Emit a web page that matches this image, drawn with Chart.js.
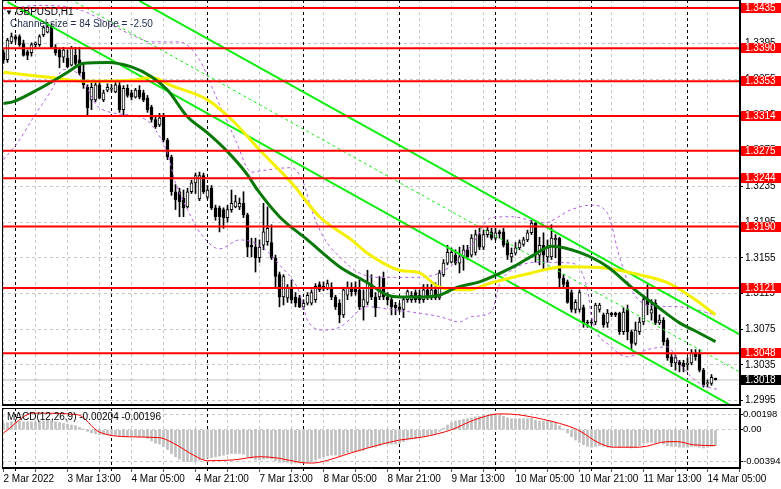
<!DOCTYPE html>
<html>
<head>
<meta charset="utf-8">
<script src="https://cdn.jsdelivr.net/npm/chart.js@4.4.1/dist/chart.umd.min.js"></script>
<style>
body { margin: 0; background: #fff; }
#wrap { position: relative; width: 781px; height: 489px; overflow: hidden; font-family: "Liberation Sans", Arial, sans-serif; font-size: 10px; }
canvas { position: absolute; left: 0; }
.txt { position: absolute; white-space: nowrap; line-height: 10px; }
</style>
</head>
<body>
<div id="wrap">
  <canvas id="priceChart" width="781" height="406" style="top:0"></canvas>
  <canvas id="macdChart" width="781" height="83" style="top:406px"></canvas>
  <div class="txt" style="left:5px;top:7px;color:#000"><span style="font-size:8px">▼</span> GBPUSD,H1</div>
  <div class="txt" style="left:10px;top:19px;color:#1f2a4a">Channel size = 84 Slope = -2.50</div>
  <div class="txt" style="left:7px;top:412px;color:#000">MACD(12,26,9) -0.00204 -0.00196</div>
</div>
<script>
// H1 candles: [open, high, low, close]
const candles = [
  [1.3385,1.3388,1.3373,1.3377],[1.3377,1.3401,1.3374,1.3399],[1.3397,1.3407,1.3395,1.3403],[1.3403,1.3405,1.3397,1.3400],
  [1.3403,1.3405,1.3392,1.3394],[1.3395,1.3399,1.3381,1.3382],[1.3386,1.3388,1.3377,1.3382],[1.3385,1.3396,1.3381,1.3394],
  [1.3394,1.3397,1.3391,1.3396],[1.3394,1.3405,1.3392,1.3403],[1.3405,1.3415,1.3403,1.3413],[1.3408,1.3419,1.3407,1.3414],
  [1.3414,1.3417,1.3390,1.3391],[1.3391,1.3394,1.3382,1.3385],[1.3388,1.3390,1.3368,1.3380],[1.3380,1.3391,1.3374,1.3388],
  [1.3379,1.3388,1.3368,1.3369],[1.3371,1.3392,1.3370,1.3390],[1.3382,1.3391,1.3371,1.3373],[1.3377,1.3391,1.3360,1.3362],
  [1.3363,1.3373,1.3345,1.3349],[1.3346,1.3349,1.3315,1.3323],[1.3332,1.3351,1.3321,1.3346],[1.3332,1.3354,1.3330,1.3349],
  [1.3349,1.3354,1.3333,1.3334],[1.3332,1.3343,1.3330,1.3340],[1.3343,1.3350,1.3341,1.3346],[1.3344,1.3349,1.3341,1.3345],
  [1.3341,1.3352,1.3340,1.3349],[1.3348,1.3352,1.3318,1.3321],[1.3321,1.3348,1.3315,1.3345],[1.3345,1.3349,1.3335,1.3337],
  [1.3340,1.3343,1.3332,1.3335],[1.3335,1.3345,1.3334,1.3343],[1.3343,1.3348,1.3333,1.3335],[1.3340,1.3343,1.3330,1.3332],
  [1.3334,1.3337,1.3318,1.3321],[1.3324,1.3326,1.3307,1.3310],[1.3310,1.3313,1.3300,1.3302],[1.3304,1.3317,1.3302,1.3312],
  [1.3313,1.3317,1.3285,1.3287],[1.3287,1.3289,1.3265,1.3268],[1.3268,1.3270,1.3225,1.3229],[1.3229,1.3237,1.3209,1.3220],
  [1.3229,1.3233,1.3201,1.3218],[1.3222,1.3231,1.3201,1.3211],[1.3212,1.3233,1.3211,1.3229],[1.3229,1.3242,1.3227,1.3239],
  [1.3239,1.3250,1.3227,1.3247],[1.3221,1.3251,1.3219,1.3247],[1.3247,1.3250,1.3227,1.3229],[1.3223,1.3236,1.3221,1.3231],
  [1.3233,1.3236,1.3209,1.3211],[1.3211,1.3214,1.3197,1.3201],[1.3211,1.3213,1.3184,1.3201],[1.3209,1.3211,1.3188,1.3200],
  [1.3200,1.3214,1.3195,1.3209],[1.3209,1.3231,1.3206,1.3216],[1.3212,1.3225,1.3211,1.3218],[1.3212,1.3222,1.3209,1.3216],
  [1.3216,1.3229,1.3200,1.3203],[1.3203,1.3205,1.3156,1.3167],[1.3169,1.3177,1.3156,1.3167],[1.3167,1.3177,1.3139,1.3155],
  [1.3155,1.3175,1.3150,1.3167],[1.3169,1.3216,1.3164,1.3184],[1.3173,1.3212,1.3169,1.3188],[1.3172,1.3192,1.3153,1.3155],
  [1.3155,1.3158,1.3122,1.3134],[1.3136,1.3139,1.3100,1.3111],[1.3111,1.3136,1.3102,1.3134],[1.3110,1.3125,1.3105,1.3122],
  [1.3122,1.3130,1.3104,1.3108],[1.3111,1.3116,1.3100,1.3104],[1.3110,1.3113,1.3099,1.3100],[1.3100,1.3108,1.3097,1.3104],
  [1.3104,1.3116,1.3102,1.3113],[1.3104,1.3119,1.3102,1.3116],[1.3108,1.3126,1.3105,1.3123],[1.3125,1.3128,1.3117,1.3119],
  [1.3120,1.3128,1.3118,1.3123],[1.3121,1.3130,1.3119,1.3126],[1.3122,1.3127,1.3108,1.3111],[1.3111,1.3113,1.3097,1.3100],
  [1.3104,1.3108,1.3082,1.3091],[1.3091,1.3122,1.3088,1.3119],[1.3113,1.3128,1.3108,1.3121],[1.3121,1.3127,1.3112,1.3117],
  [1.3122,1.3128,1.3113,1.3117],[1.3119,1.3130,1.3097,1.3100],[1.3100,1.3119,1.3085,1.3108],[1.3105,1.3141,1.3102,1.3127],
  [1.3125,1.3136,1.3108,1.3111],[1.3111,1.3116,1.3089,1.3099],[1.3111,1.3134,1.3108,1.3122],[1.3132,1.3139,1.3108,1.3111],
  [1.3111,1.3116,1.3102,1.3108],[1.3108,1.3111,1.3091,1.3100],[1.3102,1.3105,1.3091,1.3099],[1.3100,1.3104,1.3094,1.3097],
  [1.3097,1.3111,1.3088,1.3108],[1.3108,1.3119,1.3105,1.3117],[1.3108,1.3117,1.3105,1.3113],[1.3116,1.3119,1.3105,1.3108],
  [1.3113,1.3119,1.3104,1.3108],[1.3108,1.3125,1.3105,1.3119],[1.3119,1.3125,1.3108,1.3111],[1.3111,1.3125,1.3108,1.3119],
  [1.3119,1.3127,1.3108,1.3110],[1.3110,1.3141,1.3108,1.3138],[1.3136,1.3153,1.3134,1.3149],[1.3149,1.3169,1.3147,1.3161],
  [1.3150,1.3166,1.3149,1.3161],[1.3158,1.3164,1.3147,1.3149],[1.3149,1.3167,1.3138,1.3156],[1.3155,1.3169,1.3141,1.3164],
  [1.3164,1.3169,1.3153,1.3156],[1.3158,1.3181,1.3156,1.3177],[1.3161,1.3186,1.3158,1.3181],[1.3181,1.3188,1.3164,1.3167],
  [1.3167,1.3186,1.3164,1.3181],[1.3181,1.3190,1.3178,1.3186],[1.3184,1.3188,1.3175,1.3177],[1.3177,1.3188,1.3175,1.3183],
  [1.3184,1.3186,1.3177,1.3182],[1.3184,1.3188,1.3167,1.3169],[1.3172,1.3175,1.3153,1.3158],[1.3156,1.3166,1.3150,1.3160],
  [1.3160,1.3172,1.3158,1.3166],[1.3166,1.3175,1.3164,1.3172],[1.3170,1.3178,1.3168,1.3175],[1.3175,1.3186,1.3173,1.3183],
  [1.3183,1.3197,1.3181,1.3194],[1.3194,1.3195,1.3150,1.3158],[1.3158,1.3178,1.3147,1.3169],[1.3169,1.3183,1.3141,1.3158],
  [1.3156,1.3175,1.3150,1.3166],[1.3156,1.3192,1.3153,1.3177],[1.3175,1.3181,1.3155,1.3177],[1.3177,1.3178,1.3122,1.3132],
  [1.3132,1.3136,1.3122,1.3125],[1.3128,1.3130,1.3104,1.3105],[1.3116,1.3119,1.3094,1.3097],[1.3097,1.3108,1.3093,1.3105],
  [1.3097,1.3119,1.3094,1.3116],[1.3099,1.3102,1.3077,1.3082],[1.3083,1.3085,1.3077,1.3082],[1.3083,1.3085,1.3080,1.3082],
  [1.3083,1.3104,1.3080,1.3102],[1.3097,1.3104,1.3094,1.3102],[1.3091,1.3093,1.3077,1.3080],[1.3082,1.3097,1.3077,1.3093],
  [1.3093,1.3094,1.3089,1.3091],[1.3093,1.3094,1.3089,1.3091],[1.3093,1.3094,1.3069,1.3072],[1.3072,1.3099,1.3069,1.3094],
  [1.3097,1.3102,1.3063,1.3072],[1.3072,1.3074,1.3052,1.3059],[1.3059,1.3083,1.3057,1.3074],[1.3072,1.3088,1.3069,1.3083],
  [1.3083,1.3113,1.3080,1.3108],[1.3108,1.3125,1.3091,1.3102],[1.3093,1.3108,1.3085,1.3097],[1.3104,1.3108,1.3080,1.3082],
  [1.3082,1.3091,1.3080,1.3085],[1.3085,1.3088,1.3057,1.3061],[1.3063,1.3065,1.3040,1.3043],[1.3044,1.3048,1.3033,1.3037],
  [1.3037,1.3046,1.3029,1.3043],[1.3038,1.3040,1.3027,1.3035],[1.3037,1.3040,1.3027,1.3033],[1.3035,1.3043,1.3029,1.3037],
  [1.3037,1.3052,1.3035,1.3048],[1.3048,1.3052,1.3040,1.3044],[1.3048,1.3052,1.3027,1.3029],[1.3029,1.3031,1.3010,1.3012],
  [1.3014,1.3018,1.3010,1.3015],[1.3014,1.3024,1.3012,1.3021],[1.3020,1.3020,1.3018,1.3018]
];

// horizontal support / resistance levels
const levels = [1.3435, 1.3390, 1.3353, 1.3314, 1.3275, 1.3244, 1.3190, 1.3121, 1.3048];
const lastPrice = 1.3018;
const priceTicks = [1.2995, 1.3035, 1.3075, 1.3115, 1.3155, 1.3195, 1.3235, 1.3275, 1.3315, 1.3355, 1.3395, 1.3435];

// time axis (bar index of each label)
const timeLabels = ["2 Mar 2022", "3 Mar 13:00", "4 Mar 05:00", "4 Mar 21:00", "7 Mar 13:00", "8 Mar 05:00",
  "8 Mar 21:00", "9 Mar 13:00", "10 Mar 05:00", "10 Mar 21:00", "11 Mar 13:00", "14 Mar 05:00"];
const labelBars = [0, 16, 32, 48, 64, 80, 96, 112, 128, 144, 160, 176];
const daySeparators = [3, 27, 51, 75, 99, 123, 147, 171];

// moving averages [bar, price]
const maSlow = [[0,1.3363],[12,1.3357],[20,1.3353],[32,1.3354],[37,1.3357],[42,1.3348],[51,1.3332],[57,1.3310],
  [64,1.3276],[72,1.3239],[79,1.3201],[87,1.3175],[91,1.3160],[99,1.3141],[104,1.3138],[109,1.3122],[116,1.3119],
  [122,1.3127],[132,1.3138],[140,1.3145],[149,1.3144],[159,1.3136],[166,1.3127],[172,1.3111],[178,1.3091]];
const maFast = [[0,1.3328],[2.5,1.3330],[7.5,1.3341],[12,1.3352],[16,1.3363],[20,1.3373],[26,1.3374],[32,1.3369],
  [37,1.3358],[41,1.3343],[46,1.3313],[51,1.3295],[56,1.3274],[61,1.3248],[63.5,1.3231],[69,1.3201],[76,1.3175],
  [84,1.3145],[91,1.3127],[96,1.3113],[99,1.3111],[104,1.3111],[109,1.3113],[113.5,1.3122],[119,1.3128],
  [127.5,1.3145],[132.5,1.3158],[137,1.3168],[144,1.3161],[151,1.3145],[157,1.3122],[163.5,1.3100],[169,1.3082],
  [172.5,1.3074],[178,1.3061]];

// envelope bands [bar, price]
const bandUp = [[0,1.3433],[9,1.3438],[19,1.3433],[27,1.3416],[32,1.3405],[37,1.3397],[44,1.3397],[49,1.3377],
  [53,1.3337],[58,1.3287],[62,1.3251],[65,1.3253],[72,1.3256],[75,1.3239],[77,1.3209],[80,1.3178],[84,1.3156],
  [89,1.3138],[94,1.3133],[104,1.3133],[109,1.3138],[113,1.3150],[117,1.3169],[122,1.3200],[127,1.3201],[135,1.3194],
  [142,1.3209],[147,1.3214],[151,1.3205],[154,1.3156],[157,1.3119],[161,1.3102],[169,1.3100],[178,1.3091]];
const bandDown = [[0,1.3265],[4,1.3287],[7,1.3309],[12,1.3343],[15,1.3366],[19,1.3360],[24,1.3323],[34,1.3313],
  [37,1.3304],[41,1.3272],[43,1.3239],[46,1.3209],[49,1.3184],[54,1.3165],[59,1.3175],[64,1.3169],[69,1.3147],
  [74,1.3116],[76,1.3085],[80,1.3074],[84,1.3077],[91,1.3100],[97,1.3097],[109,1.3089],[114,1.3083],[117,1.3089],
  [122,1.3094],[124,1.3125],[127,1.3141],[134,1.3150],[142,1.3149],[146,1.3119],[147,1.3089],[152,1.3055],
  [156,1.3044],[161,1.3052],[166,1.3055],[169,1.3037],[172,1.3021],[176,1.3010],[179,1.3007]];

// regression channel [bar, price]
const channelTop = [[34, 1.3443], [184, 1.3069]];
const channelMid = [[1, 1.3484], [184, 1.3027]];
const channelBot = [[1, 1.3442], [184, 1.2984]];

// MACD(12,26,9)
const macdHist = [
  0.0008,0.0009,0.0010,0.0010,0.0011,0.0010,0.0010,0.0010,0.0010,0.0011,0.0011,0.0012,0.0011,0.0010,0.0009,0.0008,0.0007,0.0006,0.0005,0.0003,
  0.0001,-0.0002,-0.0004,-0.0005,-0.0006,-0.0006,-0.0006,-0.0007,-0.0007,-0.0008,-0.0008,-0.0008,-0.0008,-0.0008,-0.0009,-0.0009,-0.0011,-0.0014,-0.0017,-0.0018,
  -0.0021,-0.0025,-0.0030,-0.0034,-0.0037,-0.0039,-0.0040,-0.0040,-0.0039,-0.0038,-0.0037,-0.0036,-0.0035,-0.0034,-0.0033,-0.0032,-0.0031,-0.0030,-0.0030,-0.0030,
  -0.0031,-0.0034,-0.0036,-0.0038,-0.0038,-0.0037,-0.0036,-0.0037,-0.0039,-0.0041,-0.0041,-0.0041,-0.0042,-0.0042,-0.0042,-0.0042,-0.0041,-0.0040,-0.0038,-0.0036,
  -0.0034,-0.0033,-0.0032,-0.0032,-0.0033,-0.0031,-0.0029,-0.0028,-0.0027,-0.0027,-0.0026,-0.0023,-0.0022,-0.0022,-0.0020,-0.0018,-0.0018,-0.0018,-0.0018,-0.0017,
  -0.0015,-0.0013,-0.0012,-0.0011,-0.0010,-0.0008,-0.0007,-0.0006,-0.0005,-0.0002,0.0002,0.0006,0.0009,0.0011,0.0012,0.0013,0.0014,0.0015,0.0016,0.0017,
  0.0018,0.0018,0.0019,0.0019,0.0019,0.0017,0.0015,0.0014,0.0014,0.0014,0.0014,0.0014,0.0015,0.0012,0.0011,0.0011,0.0011,0.0011,0.0009,0.0005,
  0.0001,-0.0004,-0.0009,-0.0013,-0.0016,-0.0019,-0.0021,-0.0022,-0.0021,-0.0020,-0.0021,-0.0022,-0.0022,-0.0021,-0.0022,-0.0021,-0.0022,-0.0023,-0.0022,-0.0020,
  -0.0017,-0.0016,-0.0016,-0.0017,-0.0016,-0.0018,-0.0020,-0.0021,-0.0021,-0.0022,-0.0022,-0.0022,-0.0021,-0.0021,-0.0022,-0.0023,-0.0022,-0.0021,-0.0020
];
const macdSignal = [[0,-0.0004],[7.5,0.0021],[18.5,0.0019],[24,-0.0003],[32.5,-0.0009],[39,-0.0010],[42.5,-0.0017],
  [47.5,-0.0032],[51,-0.0039],[57.5,-0.0038],[64,-0.0034],[69,-0.0036],[74,-0.0041],[77,-0.0042],[79,-0.0041],
  [87,-0.0029],[91,-0.0023],[99,-0.0013],[105,-0.0009],[112,0.0000],[117.5,0.0012],[124,0.0020],[128.5,0.0019],
  [135,0.0013],[139,0.0008],[143.5,0.0000],[149,-0.0017],[152.5,-0.0022],[159,-0.0022],[166,-0.0015],[168.5,-0.0015],
  [172.5,-0.0019],[178,-0.0020]];
const macdTicks = [0.00198, 0, -0.00394];

// ---- chart setup ----
const FONT = '"Liberation Sans", Arial, sans-serif';
Chart.defaults.font.family = FONT;
Chart.defaults.font.size = 10;
Chart.defaults.color = '#000';

const xMin = -0.375, xMax = 184.125;
const pts = arr => arr.map(p => ({ x: p[0], y: p[1] }));
const gridBars = [];
for (let b = 0; b <= 184; b += 8) gridBars.push(b);

// black dashed day separators
const daySep = {
  id: 'daySep',
  beforeDatasetsDraw(chart) {
    const { ctx, chartArea, scales } = chart;
    ctx.save();
    ctx.strokeStyle = '#000';
    ctx.lineWidth = 1;
    ctx.setLineDash([3, 3]);
    const extra = chart.canvas.id === 'macdChart' ? 4 : 0;
    daySeparators.forEach(b => {
      const x = Math.floor(scales.x.getPixelForValue(b)) + 0.5;
      ctx.beginPath();
      ctx.moveTo(x, chartArea.top);
      ctx.lineTo(x, chartArea.bottom + extra);
      ctx.stroke();
    });
    ctx.restore();
  }
};

// frame around plot area
const frame = {
  id: 'frame',
  afterDraw(chart) {
    const { ctx, chartArea: a } = chart;
    ctx.save();
    ctx.strokeStyle = '#000';
    ctx.lineWidth = 1;
    ctx.strokeRect(Math.round(a.left) + 0.5, Math.round(a.top) + 0.5, Math.round(a.right - a.left) - 1, Math.round(a.bottom - a.top) - 1);
    ctx.restore();
  }
};

// price tags on the right axis
const levelTags = {
  id: 'levelTags',
  afterDraw(chart) {
    const { ctx, scales: { y }, chartArea } = chart;
    ctx.save();
    ctx.font = '10px ' + FONT;
    ctx.textBaseline = 'middle';
    const tag = (v, bg) => {
      const py = Math.round(y.getPixelForValue(v));
      ctx.fillStyle = bg;
      ctx.fillRect(chartArea.right + 1, py - 5, 41, 10);
      ctx.fillStyle = '#fff';
      ctx.fillText(v.toFixed(4), chartArea.right + 5, py + 0.5);
    };
    levels.forEach(v => tag(v, '#ff0000'));
    tag(lastPrice, '#000');
    ctx.restore();
  }
};

const wicks = candles.map((c, i) => ({ x: i, y: [c[2], c[1]] }));
const bodies = candles.map((c, i) => ({ x: i, y: [c[0], c[3]] }));
const bodyFill = candles.map(c => (c[3] >= c[0] ? '#fff' : '#000'));

const lineDs = (data, color, width, order, dash) => ({
  type: 'line', data: data, borderColor: color, borderWidth: width, borderDash: dash || [],
  pointRadius: 0, fill: false, order: order, cubicInterpolationMode: 'monotone'
});

const datasets = [
  lineDs([{ x: xMin, y: lastPrice }, { x: xMax, y: lastPrice }], '#c0c0c0', 1, 30),
  { type: 'bar', data: wicks, backgroundColor: '#000', barThickness: 1, borderWidth: 0, grouped: false, order: 21 },
  { type: 'bar', data: bodies, backgroundColor: bodyFill, borderColor: '#000', borderWidth: 1, borderSkipped: false,
    barThickness: 3, grouped: false, order: 20 },
  lineDs(pts(bandUp), '#b45ee0', 1, 12, [3, 3]),
  lineDs(pts(bandDown), '#b45ee0', 1, 12, [3, 3]),
  lineDs(pts(channelTop), '#11ee11', 2, 10),
  lineDs(pts(channelMid), '#11ee11', 1, 10, [3, 3]),
  lineDs(pts(channelBot), '#11ee11', 2, 10),
  lineDs(pts(maSlow), '#f5f000', 3, 8),
  lineDs(pts(maFast), '#087808', 3, 7)
];
levels.forEach(v => datasets.push(lineDs([{ x: xMin, y: v }, { x: xMax, y: v }], '#ff0000', 2, 1)));

new Chart(document.getElementById('priceChart'), {
  type: 'line',
  data: { datasets: datasets },
  options: {
    responsive: false,
    animation: false,
    layout: { padding: { left: 2, top: 0, right: 0, bottom: 1 } },
    plugins: { legend: { display: false }, tooltip: { enabled: false } },
    scales: {
      x: {
        type: 'linear', min: xMin, max: xMax, offset: false,
        ticks: { display: false },
        grid: { color: '#c8c8c8', drawTicks: false, offset: false },
        border: { display: true, color: '#000', dash: [3, 3] },
        afterBuildTicks: s => { s.ticks = gridBars.map(v => ({ value: v })); },
        afterFit: s => { s.height = 0; s.paddingLeft = 0; s.paddingRight = 0; }
      },
      y: {
        position: 'right', min: 1.29899, max: 1.34440,
        ticks: { color: '#000', padding: 2, callback: v => v.toFixed(4) },
        grid: { color: '#c8c8c8', tickColor: '#000', tickLength: 3 },
        border: { display: true, color: '#000', dash: [3, 3] },
        afterBuildTicks: s => { s.ticks = priceTicks.map(v => ({ value: v })); },
        afterFit: s => { s.width = 41; s.paddingTop = 0; s.paddingBottom = 0; }
      }
    }
  },
  plugins: [daySep, frame, levelTags]
});

new Chart(document.getElementById('macdChart'), {
  type: 'line',
  data: {
    datasets: [
      { type: 'bar', data: macdHist.map((v, i) => ({ x: i, y: v })), backgroundColor: '#c0c0c0',
        barThickness: 2, borderWidth: 0, grouped: false, order: 5 },
      lineDs(pts(macdSignal), '#ff0000', 1, 1)
    ]
  },
  options: {
    responsive: false,
    animation: false,
    layout: { padding: { left: 2, top: 2, right: 0, bottom: 0 } },
    plugins: { legend: { display: false }, tooltip: { enabled: false } },
    scales: {
      x: {
        type: 'linear', min: xMin, max: xMax, offset: false,
        ticks: {
          autoSkip: false, maxRotation: 0, minRotation: 0, align: 'start', padding: 1, color: '#000',
          callback: v => { const k = labelBars.indexOf(v); return k >= 0 ? timeLabels[k] : ''; }
        },
        grid: { color: '#c8c8c8', tickColor: '#555', tickLength: 4, offset: false },
        border: { display: true, color: '#000', dash: [3, 3] },
        afterBuildTicks: s => { s.ticks = gridBars.map(v => ({ value: v })); },
        afterFit: s => { s.height = 21; s.paddingLeft = 0; s.paddingRight = 0; }
      },
      y: {
        position: 'right', min: -0.00482, max: 0.00274,
        ticks: { color: '#000', padding: 0, font: { size: 9.5 }, callback: v => (v === 0 ? '0.00' : v.toFixed(5)) },
        grid: { color: '#c8c8c8', tickColor: '#000', tickLength: 3 },
        border: { display: true, color: '#000', dash: [3, 3] },
        afterBuildTicks: s => { s.ticks = macdTicks.map(v => ({ value: v })); },
        afterFit: s => { s.width = 41; s.paddingTop = 0; s.paddingBottom = 0; }
      }
    }
  },
  plugins: [daySep, frame]
});
</script>
</body>
</html>
